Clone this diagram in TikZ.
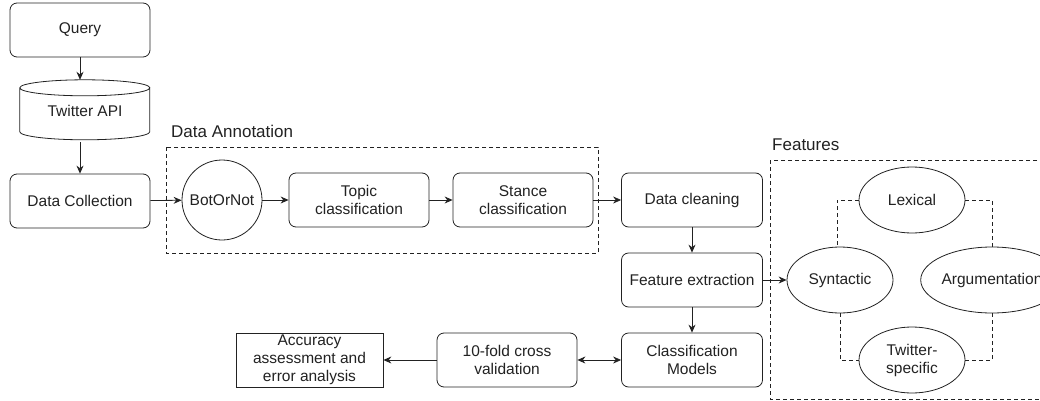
\documentclass[tikz,border=0pt]{standalone}
\usepackage{fontspec}
\setmainfont{Liberation Sans}
\usetikzlibrary{arrows.meta,shapes.geometric}
\definecolor{ln}{HTML}{222222}
\tikzset{
  every node/.style={font=\fontsize{15.5}{18}\selectfont, text=ln, align=center, inner sep=1pt},
  rbox/.style={draw=ln, line width=0.8pt, rounded corners=7pt, minimum width=140pt, minimum height=54pt},
  sbox/.style={draw=ln, line width=0.8pt, minimum width=147pt, minimum height=54pt},
  ell/.style={draw=ln, line width=0.8pt, ellipse, minimum width=106pt, minimum height=66pt, inner sep=0pt},
  arr/.style={draw=ln, line width=0.8pt, -{Stealth[length=8pt,width=7pt]}},
  darr/.style={draw=ln, line width=0.8pt, {Stealth[length=8pt,width=7pt]}-{Stealth[length=8pt,width=7pt]}},
  grp/.style={draw=ln, line width=0.8pt, dash pattern=on 4pt off 3pt},
  lnk/.style={draw=ln, line width=0.8pt, dash pattern=on 4pt off 3pt},
  lbl/.style={font=\fontsize{17}{20}\selectfont, anchor=west}
}
\begin{document}
\begin{tikzpicture}[x=1pt,y=-1pt]
\useasboundingbox (0,0) rectangle (1040,401);
\clip (0,0) rectangle (1040,401);
\fill[white] (0,0) rectangle (1040,401);

% groups
\node[lbl] (annlbl) at (170,131) {Data Annotation};
\draw[grp] (166,147) rectangle (598,253);
\node[lbl] (featlbl) at (771,145) {Features};
\draw[grp] (770,160) rectangle (1060,399);

% left column
\node[rbox] (query) at (80,30) {Query};
\node[minimum width=130pt, minimum height=62pt, inner sep=0pt] (twit) at (85,111) {Twitter API};
\draw[ln, line width=0.8pt] (twit.north west) ++(0,8) coordinate (tl)
  (tl) arc[start angle=180, end angle=540, x radius=65pt, y radius=8pt]
  (tl) -- ++(0,44) arc[start angle=180, end angle=360, x radius=65pt, y radius=8pt] -- ++(0,-44);
\node[rbox] (dc) at (80,201) {Data Collection};

% annotation
\node[draw=ln, line width=0.8pt, circle, minimum size=80pt, inner sep=0pt] (bot) at (222,200) {BotOrNot};
\node[rbox] (topic) at (359,200) {Topic\\classification};
\node[rbox] (stance) at (523,200) {Stance\\classification};

% middle column
\node[rbox, minimum width=141pt] (clean) at (692,200) {Data cleaning};
\node[rbox, minimum width=141pt] (feat) at (692,280) {Feature extraction};
\node[rbox, minimum width=141pt] (models) at (692,360) {Classification\\Models};
\node[rbox] (cv) at (507,360) {10-fold cross\\validation};
\node[sbox] (acc) at (309.5,360) {Accuracy\\assessment and\\error analysis};

% features
\node[ell] (lex) at (912,200) {Lexical};
\node[ell] (syn) at (840,280) {Syntactic};
\node[ell] (arg) at (992,280) {Argumentation};
\node[ell] (tw) at (912,360) {Twitter-\\specific};

% connectors
\draw[arr] (query.south) -- (query.south |- twit.north);
\draw[arr] (query.south |- twit.south) -- (dc.north);
\draw[arr] (dc) -- (bot);
\draw[arr] (bot) -- (topic);
\draw[arr] (topic) -- (stance);
\draw[arr] (stance) -- (clean);
\draw[arr] (clean) -- (feat);
\draw[arr] (feat) -- (models);
\draw[arr] (feat) -- (syn);
\draw[darr] (cv) -- (models);
\draw[arr] (cv) -- (acc);

\draw[lnk] (lex.west) -| ([xshift=-3pt]syn.north);
\draw[lnk] (lex.east) -| (arg.north);
\draw[lnk] (syn.south) |- (tw.west);
\draw[lnk] (tw.east) -| (arg.south);
\end{tikzpicture}
\end{document}
